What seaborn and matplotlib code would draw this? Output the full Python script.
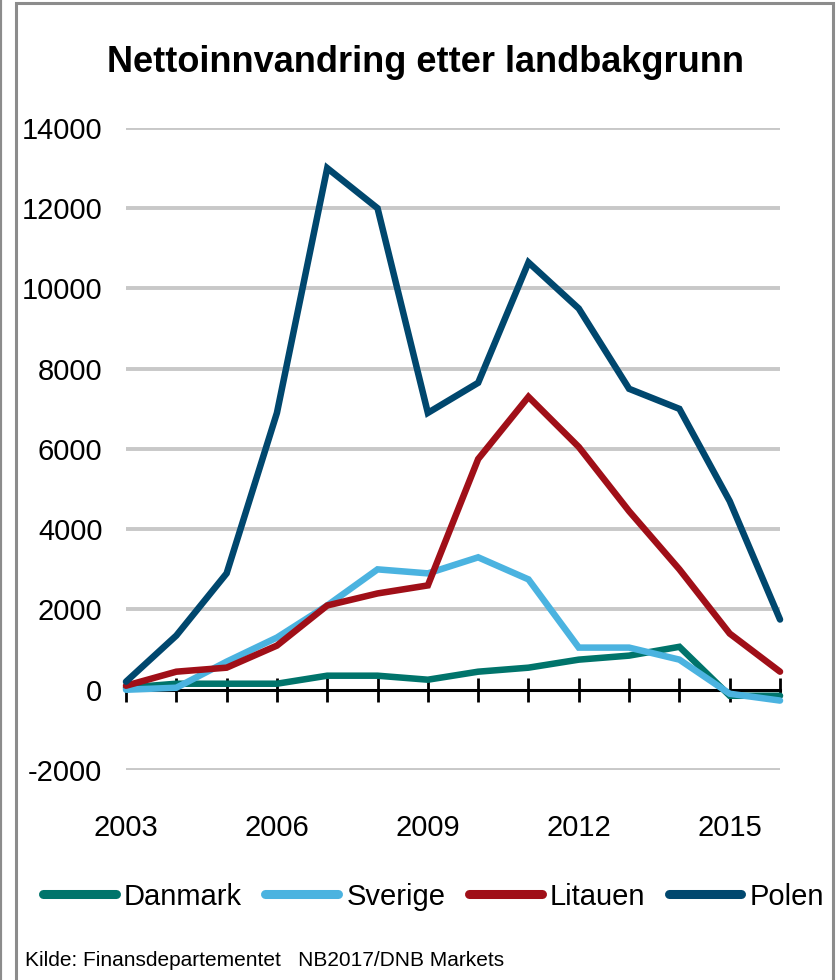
import pandas as pd
import numpy as np
import matplotlib.pyplot as plt
import matplotlib.patches as mpatches
import seaborn as sns

# data
years = list(range(2003, 2017))
danmark = [50, 150, 150, 150, 350, 350, 250, 450, 550, 750, 850, 1070, -150, -150]
sverige = [0, 50, 700, 1300, 2100, 3000, 2900, 3300, 2750, 1050, 1050, 750, -100, -270]
litauen = [100, 450, 550, 1100, 2100, 2400, 2600, 5750, 7300, 6050, 4450, 3000, 1400, 450]
polen = [200, 1350, 2900, 6900, 13000, 12000, 6900, 7650, 10650, 9500, 7500, 7000, 4700, 1750]

countries = ['Danmark', 'Sverige', 'Litauen', 'Polen']
colors = {'Danmark': '#00746B', 'Sverige': '#4BB3E0', 'Litauen': '#A00F18', 'Polen': '#00476E'}
year_labels = [2003, 2006, 2009, 2012, 2015]
yticks = list(range(-2000, 14001, 2000))

df = pd.DataFrame({
    'Year': years * 4,
    'Value': danmark + sverige + litauen + polen,
    'Land': np.repeat(countries, len(years)),
})

sns.set_style("white")
plt.rcParams['font.family'] = ['Liberation Sans', 'DejaVu Sans']
plt.rcParams['text.color'] = 'black'
plt.rcParams['xtick.color'] = 'black'
plt.rcParams['ytick.color'] = 'black'

fig = plt.figure(figsize=(8.4, 9.8), dpi=100)
ax = fig.add_axes([0.15, 0.2143, 0.7786, 0.6551])

# grid lines (except zero, which is the black axis line)
for v in yticks:
    if v != 0:
        ax.axhline(v, color='#C8C8C8', lw=2.8, zorder=0)

sns.lineplot(data=df, x='Year', y='Value', hue='Land', palette=colors,
             hue_order=countries, lw=4.7, ax=ax, legend=False, zorder=3,
             solid_joinstyle='miter', solid_capstyle='round', clip_on=False)

ax.set_xlim(2003, 2016)
ax.set_ylim(-2000, 14000)
ax.set_yticks(yticks)
ax.set_yticklabels([str(v) for v in yticks])
ax.tick_params(axis='y', length=0, pad=17, labelsize=21)
ax.set_xlabel('')
ax.set_ylabel('')

for s in ['left', 'right', 'top']:
    ax.spines[s].set_visible(False)
ax.spines['bottom'].set_position(('data', 0))
ax.spines['bottom'].set_color('black')
ax.spines['bottom'].set_linewidth(2.2)
ax.spines['bottom'].set_zorder(2)
ax.set_xticks(years)
ax.tick_params(axis='x', direction='inout', length=17, width=2, color='black',
               labelbottom=False, bottom=True)

sec = ax.secondary_xaxis('bottom')
sec.set_xticks(year_labels)
sec.set_xticklabels([str(y) for y in year_labels])
sec.tick_params(length=0, pad=32, labelsize=21)
for s in sec.spines.values():
    s.set_visible(False)

fig.text(0.506, 0.936, 'Nettoinnvandring etter landbakgrunn', ha='center', va='center',
         fontsize=26, fontweight='bold')

handles = [plt.Line2D([], [], color=colors[c], lw=6.5, solid_capstyle='round') for c in countries]
fig.legend(handles, countries, loc='center', bbox_to_anchor=(0.516, 0.085), ncol=4,
           frameon=False, fontsize=21, handlelength=2.5, handletextpad=0.28,
           columnspacing=0.8)

fig.text(0.03, 0.02, 'Kilde: Finansdepartementet   NB2017/DNB Markets', ha='left',
         va='center', fontsize=15)

# outer frame
fig.patches.append(mpatches.Rectangle((16 / 840, -0.01), 817 / 840, 1.01 - 3 / 980,
                                      transform=fig.transFigure, fill=False,
                                      edgecolor='#8C8C8C', lw=2.2))
fig.patches.append(mpatches.Rectangle((0.001, -0.01), 0.0, 1.02,
                                      transform=fig.transFigure, fill=False,
                                      edgecolor='#8C8C8C', lw=1.5))

fig.savefig('out.png', dpi=100)
